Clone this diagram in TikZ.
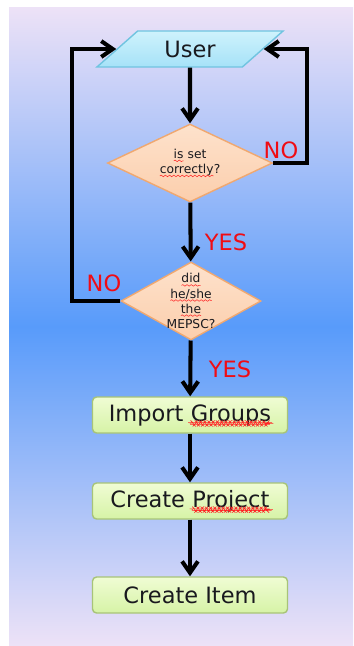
\documentclass[tikz,border=0pt]{standalone}
\usepackage{fontspec}
\setmainfont{DejaVu Sans}
\usetikzlibrary{arrows.meta,shapes.geometric,decorations.pathmorphing}

\definecolor{lav}{RGB}{237,226,247}
\definecolor{bgblue}{RGB}{88,155,250}
\definecolor{txt}{RGB}{25,25,30}
\definecolor{labred}{RGB}{240,12,20}

% red wavy spell-check mark under a word
\newcommand\spell[1]{\tikz[baseline=(w.base)]{\node[rectangle, draw=none, rounded corners=0pt,
    minimum width=0pt, minimum height=0pt, inner sep=0pt, outer sep=0pt] (w) {#1};
  \draw[red!85!white, line width=0.3pt, decorate, decoration={snake, amplitude=0.45pt, segment length=2.4pt}]
    ([yshift=-1.4pt]w.base west) -- ([yshift=-1.4pt]w.base east);}}

\begin{document}
\begin{tikzpicture}[x=0.02cm, y=-0.02cm,
  flow/.style={line width=2.3pt, -{Straight Barb[length=6.5pt,width=9pt]}},
  io/.style={trapezium, trapezium left angle=40, trapezium right angle=140,
    trapezium stretches=true, minimum width=3.74cm, minimum height=0.72cm,
    draw={rgb,255:red,112;green,196;blue,224}, line width=0.8pt,
    top color={rgb,255:red,206;green,242;blue,252}, bottom color={rgb,255:red,166;green,226;blue,248},
    text=txt, font=\fontsize{12.8}{15}\selectfont, inner sep=0pt},
  ask/.style={diamond, minimum height=1.56cm, inner sep=0pt,
    draw={rgb,255:red,240;green,168;blue,112}, line width=0.8pt,
    top color={rgb,255:red,253;green,226;blue,204}, bottom color={rgb,255:red,252;green,206;blue,172}},
  asktext/.style={align=center, text=txt, font=\fontsize{7}{8.6}\selectfont},
  task/.style={rectangle, rounded corners=2.3pt, minimum width=3.9cm, minimum height=0.72cm,
    draw={rgb,255:red,168;green,196;blue,120}, line width=0.8pt,
    top color={rgb,255:red,240;green,252;blue,212}, bottom color={rgb,255:red,214;green,243;blue,166},
    text=txt, font=\fontsize{12.8}{15}\selectfont},
  answer/.style={text=labred, font=\fontsize{12.8}{15}\selectfont}]
\useasboundingbox (0,0) rectangle (353,646);
\shade[top color=lav, bottom color=lav, middle color=bgblue] (9,7) rectangle (353,646);

\node[io] (user) at (190,49) {User};
\node[ask, minimum width=3.3cm] (q1) at (190,163) {};
\node[asktext] (q1txt) at (q1) {\spell{is} set\\\spell{correctly}?};
\node[ask, minimum width=2.8cm] (q2) at (191,301) {};
\node[asktext] (q2txt) at (q2) {\spell{did}\\\spell{he/she}\\\spell{the}\\MEPSC?};
\node[task] (imp) at (190,415) {Import \spell{Groups}};
\node[task] (proj) at (190,501) {Create \spell{Project}};
\node[task] (item) at (190,595) {Create Item};

\draw[flow] (user) -- (q1);
\draw[flow] (q1) -- (q2);
\draw[flow] (q2) -- (imp);
\draw[flow] (imp) -- (proj);
\draw[flow] (proj) -- (item);
\draw[flow] (q1.east) -- ++(34,0) |- (user.east);
\draw[flow] (q2.west) -- ++(-48,0) |- (user.west);

\node[answer] (no1) at (281,150) {NO};
\node[answer] (yes1) at (226,242) {YES};
\node[answer] (no2) at (104,283) {NO};
\node[answer] (yes2) at (230,369) {YES};
\end{tikzpicture}
\end{document}
